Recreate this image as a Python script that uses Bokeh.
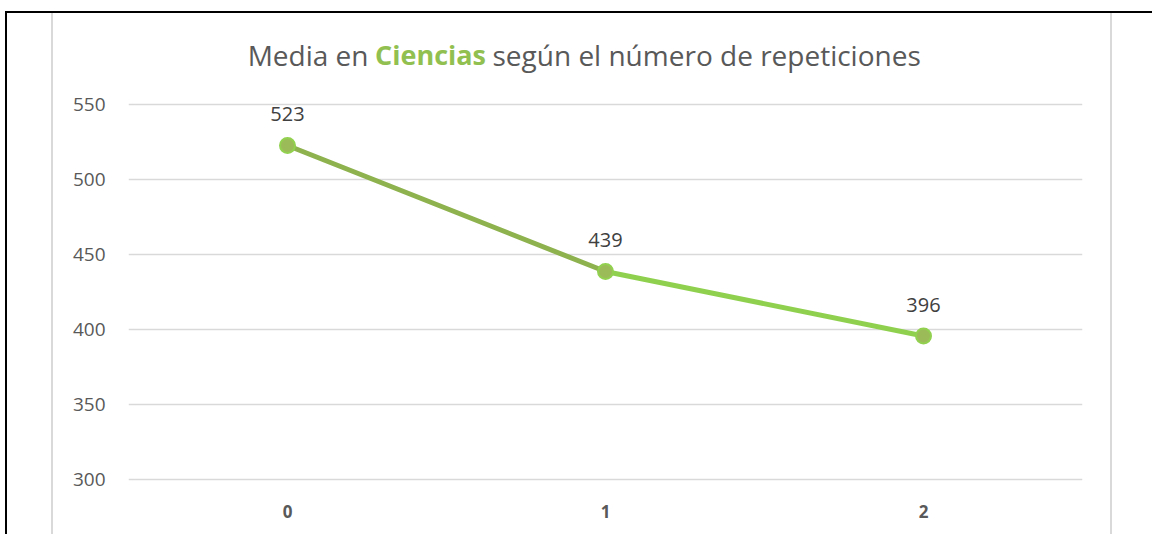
from bokeh.plotting import figure
from bokeh.models import ColumnDataSource, Label, FactorRange, Range1d, FixedTicker
from bokeh.layouts import column
from bokeh.core.properties import value
from bokeh.embed import file_html
from bokeh.resources import INLINE

categories = ["0", "1", "2"]
values = [523, 439, 396]
y_ticks = [300, 350, 400, 450, 500, 550]
title_parts = ["Media en", "Ciencias", "según el número de repeticiones"]

FONT = "Open Sans"

# frame extends up to hold the title; 1.5 px per unit
p = figure(
    x_range=FactorRange(*categories),
    y_range=Range1d(299, 604.33),
    width=1061, height=521,
    output_backend="svg", toolbar_location=None,
    min_border_left=75, min_border_right=32,
    min_border_top=10, min_border_bottom=53,
    styles={"border-left": "2px solid #d9d9d9", "border-right": "2px solid #d9d9d9"},
)
p.margin = (0, 0, 0, 44)
p.outline_line_color = None
p.background_fill_color = "white"
p.border_fill_color = "white"
p.xgrid.grid_line_color = None
p.ygrid.grid_line_color = "#d9d9d9"
p.ygrid.grid_line_width = 1.5
p.yaxis.ticker = FixedTicker(ticks=y_ticks)

for ax in (p.xaxis, p.yaxis):
    ax.axis_line_color = None
    ax.major_tick_line_color = None
    ax.minor_tick_line_color = None
    ax.major_tick_out = 0
    ax.minor_tick_out = 0
    ax.major_label_text_font = FONT
    ax.major_label_text_color = "#595959"
p.yaxis.major_label_text_font_size = "19px"
p.yaxis.major_label_standoff = 23
p.xaxis.major_label_text_font_size = "17px"
p.xaxis.major_label_text_font_style = "bold"
p.xaxis.major_label_standoff = 23

src = ColumnDataSource(dict(x=categories, y=values, lab=[str(v) for v in values]))
seg = ColumnDataSource(dict(x0=categories[:-1], y0=values[:-1], x1=categories[1:], y1=values[1:],
                            c=["#8db24e", "#8fd14f"]))
p.segment(x0="x0", y0="y0", x1="x1", y1="y1", source=seg, line_color="c", line_width=5, line_cap="round")
p.scatter(x="x", y="y", source=src, size=15, fill_color="#9bbb59", line_color="#92d050", line_width=2)
p.text(x="x", y="y", text="lab", source=src, y_offset=-31, text_align="center", text_baseline="middle",
       text_font=value(FONT), text_font_size="20px", text_color="#404040")

# screen units here are measured from the frame's bottom-left corner
ty = 427
common = dict(y=ty, x_units="screen", y_units="screen", text_baseline="middle", text_font=FONT)
p.add_layout(Label(x=240, text=title_parts[0], text_align="right", text_color="#595959",
                   text_font_size="28px", **common))
p.add_layout(Label(x=302, text=title_parts[1], text_align="center", text_color="#92c050",
                   text_font_style="bold", text_font_size="27px", **common))
p.add_layout(Label(x=364, text=title_parts[2], text_align="left", text_color="#595959",
                   text_font_size="28px", **common))

layout = column(p, width=1147,
                styles={"margin-left": "5px", "margin-top": "11px",
                        "border-top": "2px solid black", "border-left": "2px solid black"})

open("out.html", "w").write(file_html(layout, INLINE))
